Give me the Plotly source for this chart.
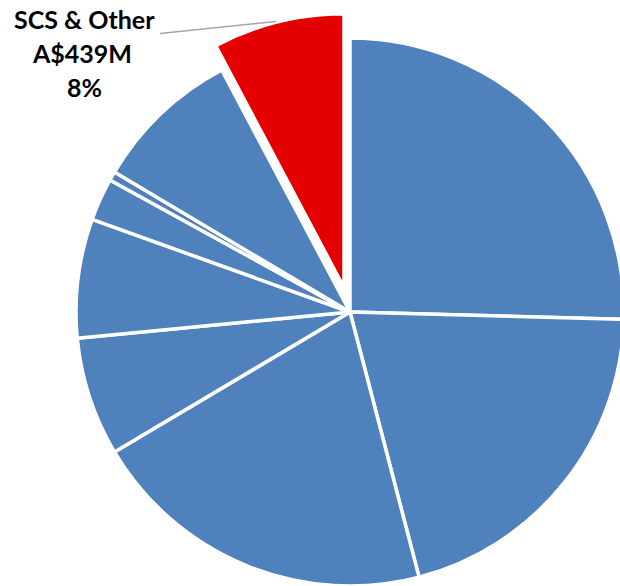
import plotly.graph_objects as go

# ---- data (A$M) ----
segments = ["Segment 1", "Segment 2", "Segment 3", "Segment 4", "Segment 5",
            "Segment 6", "Segment 7", "Segment 8", "SCS & Other"]
revenue_m = [1439, 1161, 1161, 397, 397, 142, 30, 493, 439]
highlight = "SCS & Other"
label_lines = ["SCS & Other", "A$439M", "8%"]

# ---- styling ----
W, H = 640, 586   # a little wider than the window: the pie runs off the right edge
BLUE = "#4F81BD"
RED = "#E40000"
CLEAR = "rgba(0,0,0,0)"
EDGE = 3.5

def px_dom_x(c, r):
    return [max(0.0, (c - r) / W), min(1.0, (c + r) / W)]

def px_dom_y(c, r):
    return [max(0.0, 1 - (c + r) / H), min(1.0, 1 - (c - r) / H)]

def px(x, y):
    return x / W, 1 - y / H

is_hi = [s == highlight for s in segments]

main_colors = [CLEAR if h else BLUE for h in is_hi]
main_lw = [0 if h else EDGE for h in is_hi]
hi_colors = [RED if h else CLEAR for h in is_hi]
hi_lw = [EDGE if h else 0 for h in is_hi]

R = 274
cx, cy = 350, 312
ox, oy = -6, -24.3

fig = go.Figure()
fig.add_trace(go.Pie(
    labels=segments, values=revenue_m, sort=False, direction="clockwise",
    rotation=0, textinfo="none", showlegend=False,
    marker=dict(colors=main_colors, line=dict(color="white", width=main_lw)),
    domain=dict(x=px_dom_x(cx, R), y=px_dom_y(cy, R)),
    hovertemplate="%{label}<br>A$%{value}M<br>%{percent}<extra></extra>",
))
fig.add_trace(go.Pie(
    labels=segments, values=revenue_m, sort=False, direction="clockwise",
    rotation=0, textinfo="none", showlegend=False, hoverinfo="skip",
    marker=dict(colors=hi_colors, line=dict(color="white", width=hi_lw)),
    domain=dict(x=px_dom_x(cx + ox, R), y=px_dom_y(cy + oy, R + 4)),
))

font = dict(family="Lato, 'Open Sans', sans-serif", size=25, color="black")
line_centers = [(84, 19.5), (82, 53.5), (84, 87.5)]
for txt, (x, y) in zip(label_lines, line_centers):
    ax, ay = px(x, y)
    fig.add_annotation(text=f"<b>{txt}</b>", x=ax, y=ay,
                       xref="paper", yref="paper", showarrow=False,
                       xanchor="center", yanchor="middle", font=font)

x0, y0 = px(160, 33.5)
x1, y1 = px(276, 21.5)
fig.add_shape(type="line", xref="paper", yref="paper",
              x0=x0, y0=y0, x1=x1, y1=y1,
              line=dict(color="#A6A6A6", width=1.5))

fig.update_layout(width=W, height=H, margin=dict(l=0, r=0, t=0, b=0),
                  paper_bgcolor="white", plot_bgcolor="white")
fig.write_html(
    "out.html",
    config={"displayModeBar": False},
    post_script="document.body.style.margin='0';"
                "document.body.style.overflow='hidden';",
)
